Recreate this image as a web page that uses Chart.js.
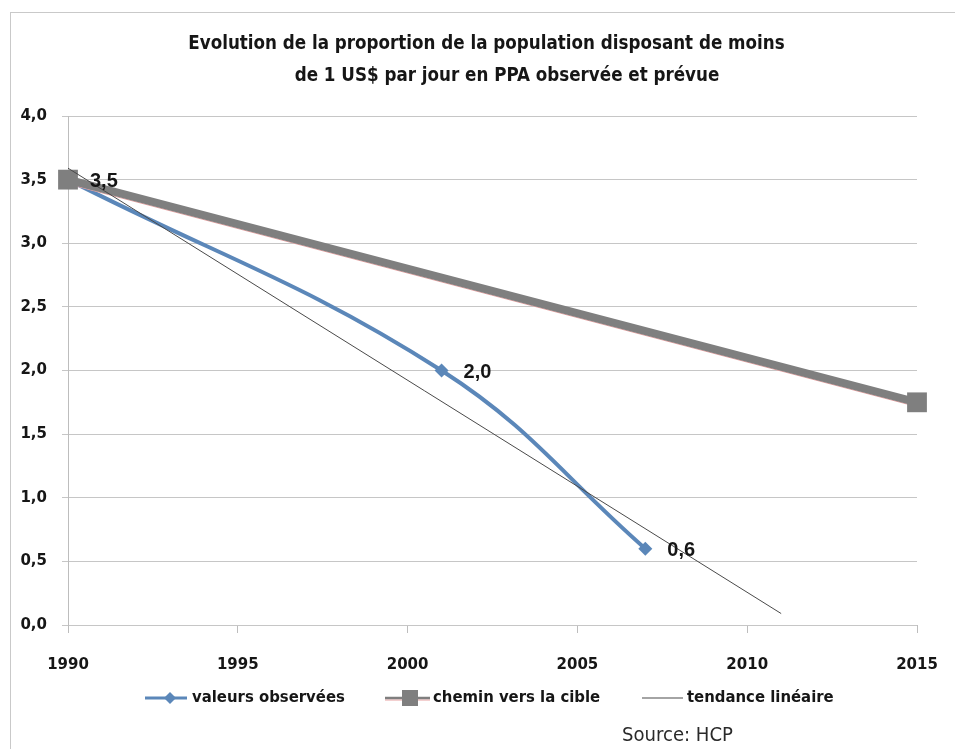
<!DOCTYPE html>
<html>
<head>
<meta charset="utf-8">
<script src="https://cdn.jsdelivr.net/npm/chart.js@4/dist/chart.umd.min.js"></script>
<style>
  html, body { margin: 0; padding: 0; background: #ffffff; }
  #wrap { width: 955px; height: 749px; position: relative; }
</style>
</head>
<body>
<div id="wrap"><canvas id="c" width="955" height="749"></canvas></div>
<script>
// Titles and texts
const titleLines = [
  'Evolution de la proportion de la population disposant de moins',
  'de 1 US$ par jour en PPA observée et prévue'
];
const sourceText = 'Source: HCP';
const seriesNames = ['valeurs observées', 'chemin vers la cible', 'tendance linéaire'];

// Observed values
const obsYears = [1990, 2001, 2007];
const obsValues = [3.5, 2.0, 0.6];

// Path towards the target
const targetYears = [1990, 2015];
const targetValues = [3.5, 1.75];

// Linear trend of the observed values
const trendYears = [1990, 2011];
const trendValues = [3.59, 0.09];

// Which points carry a value label
const obsLabelIdx = [1, 2];
const targetLabelIdx = [0];

// Axis ticks
const yearTicks = [1990, 1995, 2000, 2005, 2010, 2015];
const valueTicks = [0, 0.5, 1, 1.5, 2, 2.5, 3, 3.5, 4];

const BLUE = '#5b87b9';
const GREY = '#7f7f7f';
const PINK = '#e7a2a2';
const TREND = '#4a4a4a';
const TEXT = '#161616';
const NARROW = '"Liberation Sans Narrow", "DejaVu Sans Condensed", "Open Sans", sans-serif';
const TICKFONT = '"DejaVu Sans", Verdana, sans-serif';

const fmt = v => v.toFixed(1).replace('.', ',');
const pts = (xs, ys) => xs.map((x, i) => ({ x: x, y: ys[i] }));

// font size that makes a text span a given width
function fitSize(ctx, text, weight, family, width) {
  ctx.font = weight + ' 20px ' + family;
  return 20 * width / ctx.measureText(text).width;
}

const decor = {
  id: 'decor',
  beforeDraw(chart) {
    const ctx = chart.ctx;
    ctx.save();
    ctx.fillStyle = '#ffffff';
    ctx.fillRect(0, 0, chart.width, chart.height);
    ctx.strokeStyle = '#c9c9c9';
    ctx.lineWidth = 1;
    ctx.strokeRect(10.5, 12.5, 1000, 1000);
    ctx.restore();
  },
  beforeDatasetDraw(chart, args) {
    // thin pink fringe along the lower edge of the target path
    if (args.index !== 1) return;
    const p = args.meta.data;
    const ctx = chart.ctx;
    const dx = p[1].x - p[0].x, dy = p[1].y - p[0].y;
    const len = Math.hypot(dx, dy);
    const nx = -dy / len * 4.2, ny = dx / len * 4.2;
    ctx.save();
    ctx.strokeStyle = PINK;
    ctx.lineWidth = 1;
    ctx.beginPath();
    ctx.moveTo(p[0].x + nx, p[0].y + ny);
    ctx.lineTo(p[1].x + nx, p[1].y + ny);
    ctx.stroke();
    ctx.restore();
  },
  afterDatasetsDraw(chart) {
    const ctx = chart.ctx;
    ctx.save();
    ctx.fillStyle = TEXT;
    ctx.textAlign = 'left';
    ctx.textBaseline = 'middle';
    const put = (dsIndex, idxList, font) => {
      const meta = chart.getDatasetMeta(dsIndex);
      const data = chart.data.datasets[dsIndex].data;
      idxList.forEach(i => {
        const p = meta.data[i];
        ctx.font = font;
        ctx.fillText(fmt(data[i].y), p.x + 22, p.y + 2);
      });
    };
    put(0, obsLabelIdx, 'bold 20px "Liberation Sans", Arial, sans-serif');
    put(1, targetLabelIdx, 'bold 20px "Liberation Sans", Arial, sans-serif');
    ctx.restore();
  },
  afterDraw(chart) {
    const ctx = chart.ctx;
    ctx.save();
    ctx.fillStyle = TEXT;
    ctx.textBaseline = 'middle';

    // title
    const ts = fitSize(ctx, titleLines[0], 'bold', NARROW, 597);
    ctx.font = 'bold ' + ts + 'px ' + NARROW;
    ctx.textAlign = 'center';
    ctx.fillText(titleLines[0], 486.5, 44);
    ctx.fillText(titleLines[1], 507, 76);

    // legend
    const ly = 698;
    const ls = fitSize(ctx, seriesNames[0], 'bold', NARROW, 153);
    ctx.font = 'bold ' + ls + 'px ' + NARROW;
    ctx.textAlign = 'left';

    ctx.strokeStyle = BLUE; ctx.lineWidth = 3;
    ctx.beginPath(); ctx.moveTo(145, ly); ctx.lineTo(187, ly); ctx.stroke();
    ctx.fillStyle = BLUE;
    ctx.beginPath();
    ctx.moveTo(170, ly - 6); ctx.lineTo(176, ly); ctx.lineTo(170, ly + 6); ctx.lineTo(164, ly);
    ctx.closePath(); ctx.fill();
    ctx.fillStyle = TEXT;
    ctx.fillText(seriesNames[0], 192, ly);

    ctx.strokeStyle = PINK; ctx.lineWidth = 1;
    ctx.beginPath(); ctx.moveTo(385, ly + 2); ctx.lineTo(430, ly + 2); ctx.stroke();
    ctx.strokeStyle = GREY; ctx.lineWidth = 2.5;
    ctx.beginPath(); ctx.moveTo(385, ly); ctx.lineTo(430, ly); ctx.stroke();
    ctx.fillStyle = GREY;
    ctx.fillRect(402, ly - 8, 16, 16);
    ctx.fillStyle = TEXT;
    ctx.fillText(seriesNames[1], 433, ly);

    ctx.strokeStyle = TREND; ctx.lineWidth = 1.2;
    ctx.beginPath(); ctx.moveTo(642, ly); ctx.lineTo(683, ly); ctx.stroke();
    ctx.fillText(seriesNames[2], 687, ly);

    // source
    const ss = fitSize(ctx, sourceText, 'normal', NARROW, 111);
    ctx.font = 'normal ' + ss + 'px ' + NARROW;
    ctx.fillStyle = '#2a2a2a';
    ctx.fillText(sourceText, 622, 736);
    ctx.restore();
  }
};

new Chart(document.getElementById('c'), {
  type: 'scatter',
  data: {
    datasets: [
      {
        label: seriesNames[0],
        data: pts(obsYears, obsValues),
        showLine: true,
        borderColor: BLUE,
        backgroundColor: BLUE,
        borderWidth: 4,
        tension: 0.4,
        pointStyle: 'rectRot',
        pointRadius: 7,
        pointBorderWidth: 0,
        clip: false,
        order: 2
      },
      {
        label: seriesNames[1],
        data: pts(targetYears, targetValues),
        showLine: true,
        borderColor: GREY,
        backgroundColor: GREY,
        borderWidth: 8,
        pointStyle: 'rect',
        pointRadius: 14,
        pointBorderWidth: 0,
        clip: false,
        order: 1
      },
      {
        label: seriesNames[2],
        data: pts(trendYears, trendValues),
        showLine: true,
        borderColor: TREND,
        borderWidth: 1,
        pointRadius: 0,
        clip: false,
        order: 0
      }
    ]
  },
  options: {
    responsive: false,
    animation: false,
    devicePixelRatio: 1,
    layout: { padding: { left: 0, right: 38, top: 116, bottom: 0 } },
    plugins: { legend: { display: false }, title: { display: false }, tooltip: { enabled: false } },
    scales: {
      x: {
        type: 'linear',
        min: 1990,
        max: 2015,
        afterBuildTicks: s => { s.ticks = yearTicks.map(v => ({ value: v })); },
        afterFit: s => { s.height = 124; s.paddingLeft = 0; s.paddingRight = 0; },
        border: { display: false },
        grid: { display: true, drawOnChartArea: false, drawTicks: true, tickLength: 8, color: '#bdbdbd', lineWidth: 1 },
        ticks: {
          padding: 23,
          color: TEXT,
          font: { family: TICKFONT, size: 15, weight: 'bold' },
          callback: v => String(v),
          maxRotation: 0
        }
      },
      y: {
        min: 0,
        max: 4,
        afterBuildTicks: s => { s.ticks = valueTicks.map(v => ({ value: v })); },
        afterFit: s => { s.width = 68; },
        border: { display: true, color: '#bdbdbd', width: 1 },
        grid: { color: '#c6c6c6', lineWidth: 1, tickLength: 6 },
        ticks: {
          padding: 15,
          color: TEXT,
          font: { family: TICKFONT, size: 15, weight: 'bold' },
          callback: v => fmt(v)
        }
      }
    }
  },
  plugins: [decor]
});
</script>
</body>
</html>
